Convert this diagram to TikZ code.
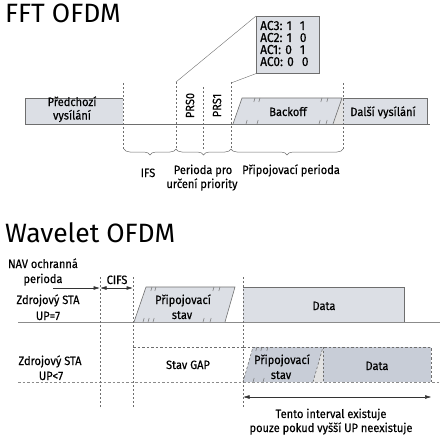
\documentclass[tikz,border=0pt]{standalone}
\usepackage{fontspec}
\setmainfont{Fira Sans}
\newfontfamily\lblfam{Fira Sans}[FakeBold=0.35,FakeStretch=0.92]
\usetikzlibrary{decorations.pathreplacing,arrows.meta}
\definecolor{boxfill}{HTML}{DCDFE5}
\definecolor{boxdark}{HTML}{C8CDD7}
\definecolor{trifill}{HTML}{E2E2E2}
\definecolor{edge}{HTML}{6E6E6E}
\begin{document}
\begin{tikzpicture}[x=1pt,y=-1pt,
  lbl/.style={font=\lblfam\fontsize{12}{13}\selectfont, anchor=base, inner sep=0pt},
  aclbl/.style={font=\lblfam\fontsize{13}{13}\selectfont, anchor=base west, inner sep=0pt},
  ttl/.style={font=\fontsize{26.5}{28}\selectfont, anchor=base west, inner sep=0pt},
  boxline/.style={draw=edge, line width=0.6pt},
  vdash/.style={draw=edge, dash pattern=on 2pt off 2pt, line width=0.4pt},
  hdash/.style={draw=edge, dash pattern=on 2.5pt off 2pt, line width=0.6pt},
  tk/.style={draw=edge, line width=0.5pt},
  arr/.style={draw=black!80, line width=0.5pt, -{Triangle[length=6pt,width=3.5pt]}},
  darr/.style={draw=black!80, line width=0.5pt, {Triangle[length=6pt,width=3.5pt]}-{Triangle[length=6pt,width=3.5pt]}},
  brc/.style={draw=edge, line width=0.5pt, decorate, decoration={brace,mirror,amplitude=6pt}}]
\useasboundingbox (0,0) rectangle (443,441);

% ===== FFT OFDM =====
\node[ttl] (t1) at (5,23) {FFT OFDM};

\coordinate (bl0) at (25,124);
\coordinate (bl1) at (430,124);
\draw[boxline] (bl0) -- (bl1);

% Predchozi vysilani
\fill[boxfill] (25,98) rectangle (123,124);
\draw[boxline] (123,98) -- (25,98) -- (25,124);
\node[lbl] (prev1) at (72,106) {Předchozí};
\node[lbl] (prev2) at (72,119.5) {vysílání};

% Backoff parallelogram
\fill[trifill] (333,124) -- (342,98) -- (343,98) -- (343,124) -- cycle;
\fill[boxfill] (233,124) -- (242,98) -- (342,98) -- (333,124) -- cycle;
\draw[boxline] (233,124) -- (242,98) -- (342,98) -- (333,124);
\foreach \x in {255,260,322,328} \draw[tk] (\x,98) -- (\x-1.2,102);
\foreach \x in {246,257,319,326} \draw[tk] (\x,124) -- (\x+1.2,120);
\node[lbl] (bo) at (288,116) {Backoff};

% Dalsi vysilani
\fill[boxfill] (343,98) rectangle (427,124);
\draw[boxline] (343,98) -- (427,98) -- (427,124);
\node[lbl] (next) at (383,116) {Další vysílání};

% dashed verticals
\foreach \x/\ya in {123/83,176/82,203/87,231/82,343/83}
  \draw[vdash] (\x,\ya) -- (\x,150);

% PRS labels
\node[lbl, anchor=center, rotate=90] (prs0) at (190,105.5) {PRS0};
\node[lbl, anchor=center, rotate=90] (prs1) at (217,105.5) {PRS1};

% zoom box
\node[draw=edge, fill=boxfill, line width=0.6pt, minimum width=63pt, minimum height=57pt, anchor=north west,
      inner sep=0pt] (ac) at (256,16) {};
\node[aclbl] (ac3) at (260,30) {AC3: 1\hspace{8pt}1};
\node[aclbl] (ac2) at (260,42) {AC2: 1\hspace{8pt}0};
\node[aclbl] (ac1) at (260,54) {AC1: 0\hspace{8pt}1};
\node[aclbl] (ac0) at (260,66) {AC0: 0\hspace{8pt}0};
\coordinate (z1) at (176,82);
\coordinate (z2) at (231,83);
\draw[draw=edge, line width=0.4pt] (z1) -- (ac.north west);
\draw[draw=edge, line width=0.4pt] (z2) -- (ac.south west);

% braces
\draw[brc] (124,149) -- (176,149);
\draw[brc] (176,149) -- (231,149);
\draw[brc] (231,149) -- (343,149);
\node[lbl] (ifs) at (148,177) {IFS};
\node[lbl] (prio1) at (203,174) {Perioda pro};
\node[lbl] (prio2) at (202,188) {určení priority};
\node[lbl] (pp) at (291,174) {Připojovací perioda};

% ===== Wavelet OFDM =====
\node[ttl] (t2) at (5,242) {Wavelet OFDM};

\node[lbl] (nav1) at (43,268) {NAV ochranná};
\node[lbl] (nav2) at (43,283) {perioda};
\node[lbl] (src1a) at (48,304) {Zdrojový STA};
\node[lbl] (src1b) at (48,320) {UP=7};
\node[lbl] (src2a) at (50,365) {Zdrojový STA};
\node[lbl] (src2b) at (51,380) {UP<7};

% row lines
\draw[draw=edge!80, line width=0.6pt] (18,322) -- (440,322);
\draw[draw=edge!80, dash pattern=on 2.5pt off 2pt, line width=0.6pt] (18,382) -- (440,382);

% Row 1 parallelogram
\fill[boxfill] (134,322) -- (146,287) -- (235,287) -- (225,322) -- cycle;
\draw[boxline] (134,322) -- (146,287) -- (235,287) -- (225,322);
\foreach \x in {152,156,214,220} \draw[tk] (\x,287) -- (\x-1.2,291);
\foreach \x in {143,148,153,203,210} \draw[tk] (\x,322) -- (\x+1.2,318);
\node[lbl] (ps1a) at (183,304) {Připojovací};
\node[lbl] (ps1b) at (182,319) {stav};

% Row 1 Data
\fill[boxfill] (243,287) rectangle (404,322);
\draw[boxline] (243,287) -- (404,287) -- (404,322);
\node[lbl] (d1) at (324,310) {Data};

% Row 2 GAP
\fill[white] (133,347) rectangle (243,382);
\draw[hdash] (133,347) -- (243,347);
\node[lbl] (gap) at (188,369) {Stav GAP};

% Row 2 right part
\fill[trifill] (313,382) -- (323,347) -- (323,382) -- cycle;
\fill[boxdark] (243,382) -- (253,347) -- (323,347) -- (313,382) -- cycle;
\fill[boxdark] (323,347) rectangle (431,382);
\draw[hdash] (243,382) -- (253,347);
\draw[hdash] (313,382) -- (323,347);
\draw[hdash] (243,347) -- (431,347) -- (431,382);
\foreach \x in {257,262,268} \draw[tk] (\x,347) -- (\x-1.2,351);
\foreach \x in {253,263} \draw[tk] (\x,382) -- (\x+1.2,378);
\node[lbl] (ps2a) at (282,364) {Připojovací};
\node[lbl] (ps2b) at (281,379) {stav};
\node[lbl] (d2) at (377,370) {Data};

% dashed verticals wavelet
\draw[vdash] (100,277) -- (100,407);
\draw[vdash] (133,277) -- (133,407);
\draw[vdash] (243,277) -- (243,407);
\draw[vdash] (323,347) -- (323,382);

% arrows
\coordinate (na0) at (53,288);
\coordinate (na1) at (99.5,288);
\draw[arr] (na0) -- (na1);
\coordinate (ci0) at (100.5,288);
\coordinate (ci1) at (132.5,288);
\draw[darr] (ci0) -- (ci1);
\node[lbl] (cifs) at (117,284) {CIFS};

\coordinate (ti0) at (243.5,397);
\coordinate (ti1) at (431,397);
\draw[darr] (ti0) -- (ti1);
\node[lbl] (tento1) at (331,418) {Tento interval existuje};
\node[lbl] (tento2) at (331,432) {pouze pokud vyšší UP neexistuje};
\end{tikzpicture}
\end{document}
